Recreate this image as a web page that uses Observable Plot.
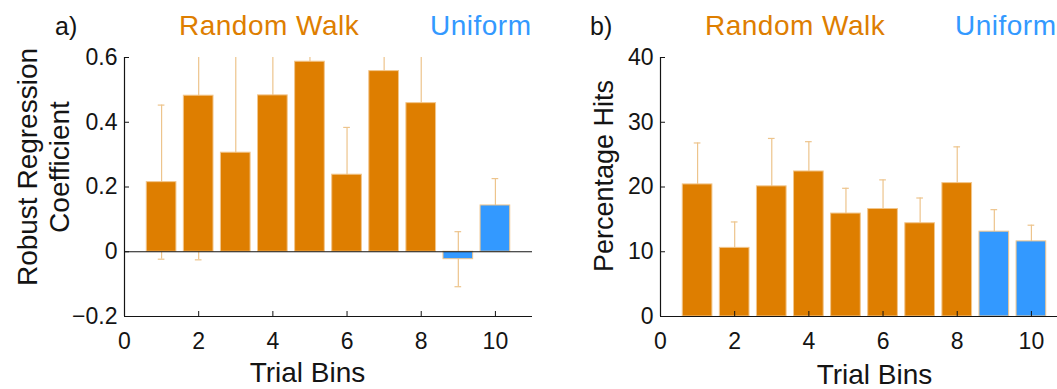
<!DOCTYPE html>
<html><head><meta charset="utf-8">
<script src="https://cdn.jsdelivr.net/npm/d3@7"></script>
<script src="https://cdn.jsdelivr.net/npm/@observablehq/plot@0.6"></script>
<style>
html,body{margin:0;padding:0;background:#fff;overflow:hidden;}
#wrap{position:relative;width:1057px;height:389px;overflow:hidden;font-family:"Liberation Sans",Arial,Helvetica,sans-serif;}
.t{position:absolute;white-space:nowrap;line-height:1;}
#pa,#pb{position:absolute;top:0;height:389px;}
#pa{left:0;width:540px;}
#pb{left:530px;width:546px;}
</style></head><body>
<div id="wrap">
  <div id="pa"></div>
  <div id="pb"></div>
</div>
<script>
// ---- data ----
const bins = [1, 2, 3, 4, 5, 6, 7, 8, 9, 10];
const conditions = ["Random Walk","Random Walk","Random Walk","Random Walk","Random Walk","Random Walk","Random Walk","Random Walk","Uniform","Uniform"];
const groupNames = ["Random Walk", "Uniform"];
const panelLabels = ["a)", "b)"];
const coefValues = [0.215, 0.482, 0.306, 0.483, 0.587, 0.238, 0.558, 0.459, -0.023, 0.143];
const coefErrors = [0.238, 0.507, 0.300, 0.350, 0.100, 0.146, 0.200, 0.250, 0.085, 0.083];
const hitValues = [20.4, 10.6, 20.1, 22.4, 15.9, 16.6, 14.4, 20.6, 13.1, 11.6];
const hitErrors = [6.4, 4.0, 7.4, 4.6, 3.9, 4.5, 3.9, 5.6, 3.4, 2.5];
const coefTicks = [-0.2, 0, 0.2, 0.4, 0.6];
const hitTicks = [0, 10, 20, 30, 40];
const binTicks = [0, 2, 4, 6, 8, 10];
const xLabel = "Trial Bins";
const coefLabel = "Robust Regression\nCoefficient";
const hitLabel = "Percentage Hits";

// ---- style ----
const FONT = '"Liberation Sans", Arial, Helvetica, sans-serif';
const ORANGE = "#DE7E00", BLUE = "#3399FF", ERR = "#EDC48C", EDGE = "#F2C68C", INK = "#141414";
const BAR = 0.8, CAP = 0.09;

function panel(o) {
  const rows = bins.map((b, i) => ({bin: b, cond: conditions[i], v: o.values[i], e: o.errors[i]}));
  const marks = [
    Plot.ruleX(rows, {x: "bin", y1: d => d.v - d.e, y2: d => d.v + d.e, stroke: ERR, strokeWidth: 1.2, clip: true}),
    Plot.ruleY(rows, {y: d => d.v + d.e, x1: d => d.bin - CAP, x2: d => d.bin + CAP, stroke: ERR, strokeWidth: 1.2, clip: true}),
    Plot.ruleY(rows, {y: d => d.v - d.e, x1: d => d.bin - CAP, x2: d => d.bin + CAP, stroke: ERR, strokeWidth: 1.2, clip: true}),
    Plot.rectY(rows, {x1: d => d.bin - BAR / 2, x2: d => d.bin + BAR / 2, y1: () => 0, y2: "v", fill: "cond", stroke: EDGE, strokeWidth: 1})
  ];
  if (o.zeroLine) marks.push(Plot.ruleY([0], {stroke: INK, strokeWidth: 1}));
  marks.push(
    Plot.ruleX([0], {stroke: INK, strokeWidth: 1.2}),
    Plot.ruleY([o.yDomain[0]], {stroke: INK, strokeWidth: 1.2}),
    Plot.axisY(o.yTicks, {tickSize: -5, tickPadding: 12, tickFormat: o.yFormat, fontSize: 23, stroke: INK, fill: INK, label: null}),
    Plot.axisX(binTicks, {tickSize: -5, tickPadding: 21, fontSize: 23, stroke: INK, fill: INK, label: null}),
    Plot.text([o.yLabel], {frameAnchor: "left", rotate: -90, textAnchor: "middle", lineAnchor: "middle", lineHeight: 1.17, fontSize: o.yLabelSize, dx: o.yLabelDx, dy: o.yLabelDy, fill: INK}),
    Plot.text([xLabel], {frameAnchor: "bottom", textAnchor: "middle", lineAnchor: "middle", fontSize: 28, dx: o.xLabelDx, dy: o.xLabelDy, fill: INK})
  );
  return Plot.plot({
    width: o.width, height: 389,
    marginLeft: o.marginLeft, marginRight: 8, marginTop: 57, marginBottom: 73,
    x: {domain: [0, 11], label: null},
    y: {domain: o.yDomain, label: null},
    color: {domain: groupNames, range: [ORANGE, BLUE]},
    style: {fontFamily: FONT, overflow: "visible", maxWidth: "none", background: "transparent"},
    marks
  });
}

const fmtCoef = d => d === 0 ? "0" : (d < 0 ? "\u2212" : "") + Math.abs(d).toFixed(1);

document.getElementById("pa").append(panel({
  values: coefValues, errors: coefErrors, yDomain: [-0.2, 0.6], yTicks: coefTicks, yFormat: fmtCoef,
  yLabel: coefLabel, yLabelSize: 28, yLabelDx: -82, yLabelDy: -20, xLabelDx: -21, xLabelDy: 57,
  marginLeft: 124, width: 540, zeroLine: true
}));
document.getElementById("pb").append(panel({
  values: hitValues, errors: hitErrors, yDomain: [0, 40], yTicks: hitTicks, yFormat: d => String(d),
  yLabel: hitLabel, yLabelSize: 27, yLabelDx: -58, yLabelDy: -11, xLabelDx: 10, xLabelDy: 59,
  marginLeft: 130, width: 546, zeroLine: false
}));

// ---- panel titles ----
const wrap = document.getElementById("wrap");
const titles = [
  {text: panelLabels[0], left: 55, top: 13.5, size: 25, color: INK},
  {text: groupNames[0], left: 179, top: 12, size: 28, color: ORANGE, ls: 0.5},
  {text: groupNames[1], left: 430, top: 12, size: 28, color: BLUE, ls: 0.5},
  {text: panelLabels[1], left: 590, top: 13.5, size: 25, color: INK},
  {text: groupNames[0], left: 705, top: 12, size: 28, color: ORANGE, ls: 0.5},
  {text: groupNames[1], left: 955, top: 12, size: 28, color: BLUE, ls: 0.5}
];
for (const t of titles) {
  const el = document.createElement("div");
  el.className = "t";
  el.textContent = t.text;
  el.style.left = t.left + "px";
  el.style.top = t.top + "px";
  el.style.fontSize = t.size + "px";
  el.style.color = t.color;
  if (t.ls) el.style.letterSpacing = t.ls + "px";
  wrap.append(el);
}
</script>
</body></html>
